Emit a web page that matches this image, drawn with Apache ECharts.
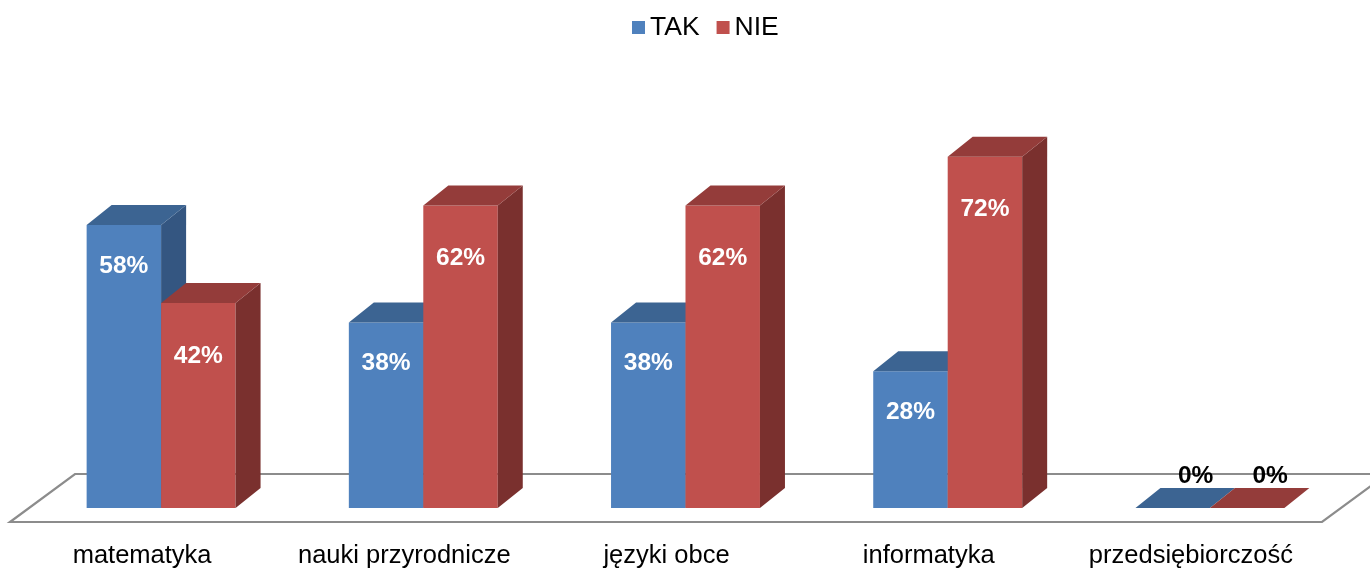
<!DOCTYPE html>
<html>
<head>
<meta charset="utf-8">
<script src="https://cdn.jsdelivr.net/npm/echarts@6/dist/echarts.min.js"></script>
<style>
  html, body { margin: 0; padding: 0; background: #fff; }
  #main { width: 1370px; height: 569px; }
</style>
</head>
<body>
<div id="main"></div>
<script>
var categories = ['matematyka', 'nauki przyrodnicze', 'języki obce', 'informatyka', 'przedsiębiorczość'];
var takValues = [58, 38, 38, 28, 0];
var nieValues = [42, 62, 62, 72, 0];

// shading for the fake 3D boxes: front, top, side
var takColors = ['#4F81BD', '#3C6492', '#345681'];
var nieColors = ['#C0504D', '#943C3A', '#7A302E'];
var depthX = 25, depthY = -20;

function makeBox (slot, colors, labelDist) {
  return function (params, api) {
    var idx = api.value(0);
    var val = api.value(1);
    var base = api.coord([idx, 0]);
    var top = api.coord([idx, val]);
    var band = api.size([1, 0])[0];
    var bw = band * 0.284;
    var x0 = base[0] - bw + slot * bw;
    var children = [];
    if (val > 0) {
      children.push({
        type: 'rect',
        shape: { x: x0, y: top[1], width: bw, height: base[1] - top[1] },
        style: { fill: colors[0] }
      });
      children.push({
        type: 'polygon',
        shape: { points: [[x0 + bw, top[1]], [x0 + bw + depthX, top[1] + depthY], [x0 + bw + depthX, base[1] + depthY], [x0 + bw, base[1]]] },
        style: { fill: colors[2] }
      });
    }
    children.push({
      type: 'polygon',
      shape: { points: [[x0, top[1]], [x0 + bw, top[1]], [x0 + bw + depthX, top[1] + depthY], [x0 + depthX, top[1] + depthY]] },
      style: { fill: colors[1] }
    });
    if (val > 0) {
      children.push({
        type: 'text',
        style: {
          x: x0 + bw / 2, y: top[1] + labelDist,
          text: val + '%', fill: '#fff',
          font: 'bold 24.5px "Liberation Sans", Arial, sans-serif',
          align: 'center', verticalAlign: 'middle'
        }
      });
    } else {
      children.push({
        type: 'text',
        style: {
          x: x0 + bw / 2 + 23, y: base[1] - 32,
          text: val + '%', fill: '#000',
          font: 'bold 24.5px "Liberation Sans", Arial, sans-serif',
          align: 'center', verticalAlign: 'middle'
        }
      });
    }
    return { type: 'group', children: children };
  };
}

function renderFloor (params, api) {
  var cs = params.coordSys;
  var yb = cs.y + cs.height;
  var x = cs.x, w = cs.width;
  return {
    type: 'polygon',
    shape: { points: [[x - 20, yb + 14], [x + w - 19, yb + 14], [x + w + 46, yb - 34], [x + 45, yb - 34]] },
    style: { fill: 'none', stroke: '#8C8C8C', lineWidth: 2.2 }
  };
}

var chart = echarts.init(document.getElementById('main'));
chart.setOption({
  animation: false,
  legend: {
    left: 627,
    top: 9,
    itemWidth: 13,
    itemHeight: 13,
    itemGap: 17,
    icon: 'rect',
    textStyle: { fontSize: 26.5, color: '#000', fontFamily: '"Liberation Sans", Arial, sans-serif' },
    data: ['TAK', 'NIE']
  },
  grid: { left: 30, right: 29, top: 20, bottom: 61 },
  xAxis: {
    type: 'category',
    data: categories,
    axisLine: { show: false },
    axisTick: { show: false },
    axisLabel: {
      margin: 35,
      fontSize: 25.5,
      color: '#000',
      fontFamily: '"Liberation Sans", Arial, sans-serif',
      padding: [0, 38, 0, 0],
      interval: 0
    }
  },
  yAxis: { type: 'value', min: 0, max: 100, show: false },
  series: [
    {
      name: 'floor',
      type: 'custom',
      z: 1,
      silent: true,
      renderItem: renderFloor,
      data: [[0, 0]]
    },
    {
      name: 'TAK',
      type: 'custom',
      z: 2,
      itemStyle: { color: takColors[0] },
      renderItem: makeBox(0, takColors, 41),
      data: takValues.map(function (v, i) { return [i, v]; })
    },
    {
      name: 'NIE',
      type: 'custom',
      z: 3,
      itemStyle: { color: nieColors[0] },
      renderItem: makeBox(1, nieColors, 53),
      data: nieValues.map(function (v, i) { return [i, v]; })
    }
  ]
});
</script>
</body>
</html>
